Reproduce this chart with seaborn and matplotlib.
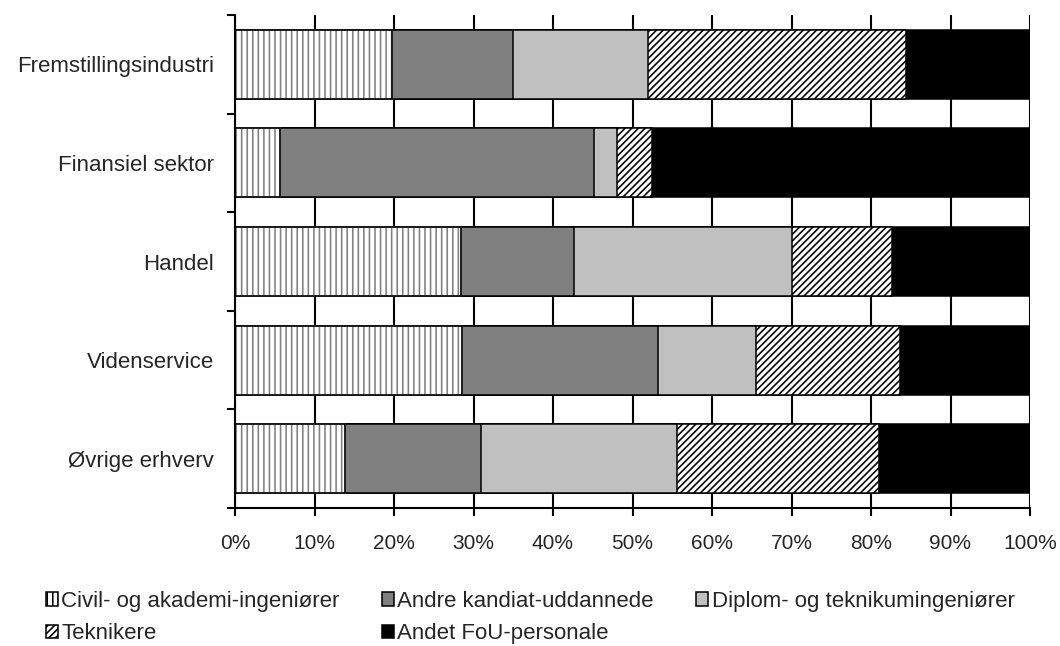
import numpy as np
import pandas as pd
import seaborn as sns
import matplotlib.pyplot as plt
import matplotlib.patches as mpatches
from matplotlib.ticker import FixedLocator, PercentFormatter

# data (share of R&D staff, %)
sectors = ["Fremstillingsindustri", "Finansiel sektor", "Handel", "Videnservice", "Øvrige erhverv"]
groups = ["Civil- og akademi-ingeniører", "Andre kandiat-uddannede",
          "Diplom- og teknikumingeniører", "Teknikere", "Andet FoU-personale"]

civil = [19.7, 5.7, 28.4, 28.6, 13.8]
andre = [15.3, 39.5, 14.3, 24.6, 17.1]
diplom = [17.0, 2.8, 27.4, 12.3, 24.7]
teknikere = [32.4, 4.5, 12.6, 18.1, 25.4]
andet = [15.6, 47.5, 17.3, 16.4, 19.0]

df = pd.DataFrame({"sector": sectors, groups[0]: civil, groups[1]: andre,
                   groups[2]: diplom, groups[3]: teknikere, groups[4]: andet})
cum = df[groups].cumsum(axis=1)

facecolors = ["white", "#808080", "#c0c0c0", "white", "black"]
hatches = ["|||", None, None, "/////", None]

sns.set_style("ticks")
plt.rcParams["font.family"] = ["Liberation Sans", "DejaVu Sans"]
plt.rcParams["hatch.linewidth"] = 1.15

fig = plt.figure(figsize=(10.6, 6.46), dpi=100)
ax = fig.add_axes([235 / 1060, 1 - 508 / 646, 795 / 1060, 493 / 646])

# stacked bars: draw cumulative totals from the right-most segment back
for i in reversed(range(len(groups))):
    edge = "#808080" if i == 0 else "black"
    sns.barplot(x=cum[groups[i]], y=df["sector"], orient="h", width=0.7,
                color=facecolors[i], saturation=1, edgecolor=edge,
                linewidth=1.1, hatch=hatches[i], errorbar=None, ax=ax)
# black outline on the hatched first segment
sns.barplot(x=cum[groups[0]], y=df["sector"], orient="h", width=0.7,
            color="black", fill=False, linewidth=1.1, errorbar=None, ax=ax)

ax.set_xlim(0, 100)
ax.set_xticks(np.arange(0, 101, 10))
ax.xaxis.set_major_formatter(PercentFormatter(decimals=0))
ax.set_xlabel("")
ax.set_ylabel("")
ax.grid(axis="x", color="black", linewidth=1.5)
ax.set_axisbelow(True)

ax.yaxis.set_minor_locator(FixedLocator(np.arange(-0.5, 5, 1)))
ax.tick_params(axis="y", which="major", length=0, pad=15, labelsize=16)
ax.tick_params(axis="y", which="minor", length=6, width=1.5, color="black")
ax.tick_params(axis="x", length=6, width=1.5, color="black", pad=13, labelsize=15)

sns.despine(ax=ax, top=True, right=True)
for s in ["left", "bottom"]:
    ax.spines[s].set_color("black")
    ax.spines[s].set_linewidth(1.5)

handles = [mpatches.Patch(facecolor=facecolors[i], edgecolor="black",
                          hatch=hatches[i], linewidth=1.1) for i in range(len(groups))]
order = [0, 3, 1, 4, 2]
fig.legend([handles[i] for i in order], [groups[i] for i in order],
           loc="upper center", bbox_to_anchor=(0.5, 1 - 591 / 646),
           ncol=3, frameon=False, fontsize=16, handlelength=0.55,
           handleheight=0.55, handletextpad=0.15, columnspacing=1.9,
           labelspacing=0.5, borderpad=0, borderaxespad=0)

fig.savefig("out.png", dpi=100)
